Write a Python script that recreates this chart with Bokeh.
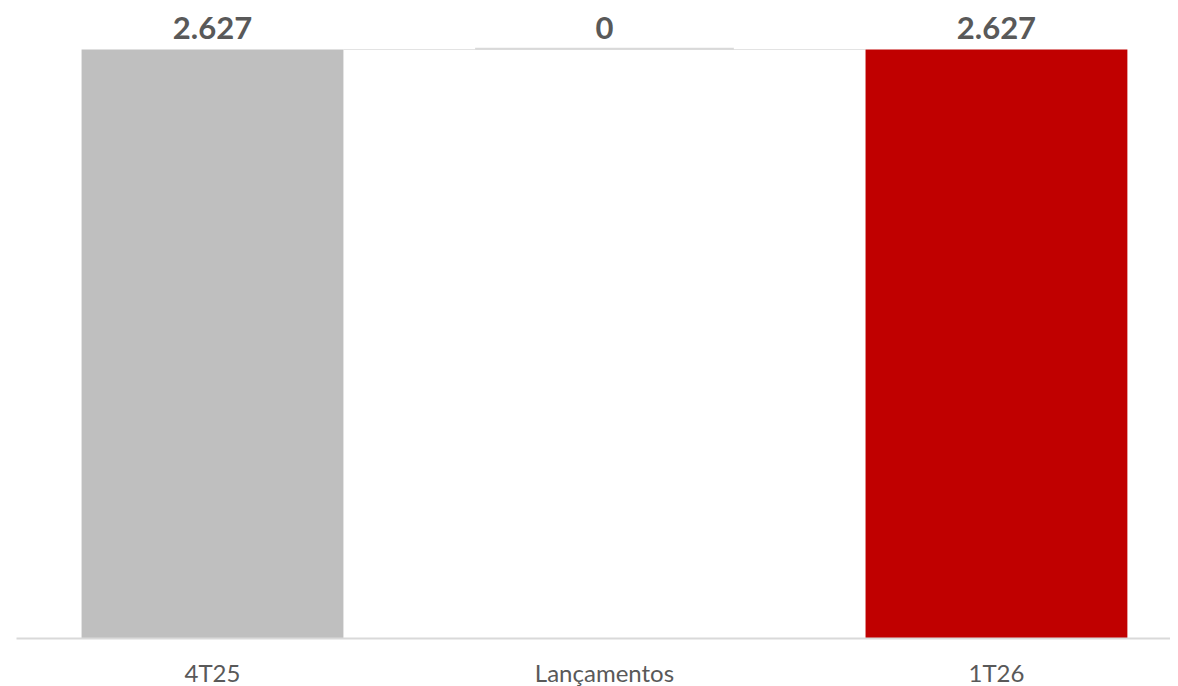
from bokeh.plotting import figure
from bokeh.models import ColumnDataSource, Range1d, FixedTicker
from bokeh.embed import file_html
from bokeh.resources import INLINE
from bokeh.core.properties import value

categories = ["4T25", "Lançamentos", "1T26"]
values = [2627, 0, 2627]
labels = ["2.627", "0", "2.627"]
colors = ["#BFBFBF", "#FFFFFF", "#C00000"]

# waterfall geometry
xs = [0, 1, 2]
bottoms = []
tops = []
running = 0
for i, v in enumerate(values):
    if i == 0 or i == len(values) - 1:
        bottoms.append(0)
        tops.append(v)
        running = v
    else:
        bottoms.append(running)
        tops.append(running + v)
        running = running + v

src = ColumnDataSource(dict(x=xs, bottom=bottoms, top=tops, color=colors, label=labels))

p = figure(frame_width=1154, frame_height=630, output_backend="svg", toolbar_location=None,
           x_range=Range1d(-0.5, 2.444), y_range=Range1d(0, 2810),
           min_border_left=16, min_border_right=0, min_border_top=8, min_border_bottom=48)

bw = 0.668
# connector lines
p.segment(x0=[xs[0] + bw / 2], y0=[tops[0]], x1=[xs[2] - bw / 2], y1=[tops[0]],
          line_color="#E3E3E3", line_width=1)

p.vbar(x="x", bottom="bottom", top="top", width=bw, fill_color="color", line_color=None, source=src)
# zero-height middle bar outline
p.segment(x0=[xs[1] - 0.66 / 2], y0=[tops[1] + 3], x1=[xs[1] + 0.66 / 2], y1=[tops[1] + 3],
          line_color="#D9D9D9", line_width=2)

p.text(x="x", y="top", text="label", source=src, text_align="center", text_baseline="bottom",
       y_offset=-11, text_font=value("Lato"), text_font_style="bold", text_font_size="31px",
       text_color="#595959")

p.yaxis.visible = False
p.xgrid.visible = False
p.ygrid.visible = False
p.outline_line_color = None

ax = p.xaxis[0]
ax.ticker = FixedTicker(ticks=xs)
ax.major_label_overrides = {x: c for x, c in zip(xs, categories)}
ax.major_tick_line_color = None
ax.minor_tick_line_color = None
ax.axis_line_color = "#D9D9D9"
ax.axis_line_width = 2
ax.major_label_text_font = "Lato"
ax.major_label_text_font_size = "24px"
ax.major_label_text_color = "#595959"
ax.major_label_standoff = 13

open("out.html", "w").write(file_html(p, INLINE))
